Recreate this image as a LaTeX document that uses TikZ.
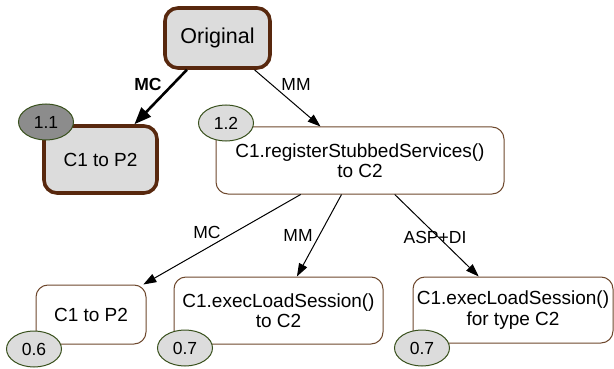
\documentclass[tikz,border=0pt]{standalone}
\usepackage{fontspec}
\setmainfont{Liberation Sans}
\usetikzlibrary{arrows.meta,shapes.geometric}
\definecolor{brownthick}{RGB}{88,40,14}
\definecolor{brownthin}{RGB}{110,72,45}
\definecolor{ovalgreen}{RGB}{56,80,28}
\definecolor{lightfill}{RGB}{220,220,220}
\definecolor{darkfill}{RGB}{140,140,140}
\tikzset{
  boxtext/.style={font=\fontsize{19}{20.5}\selectfont},
  mainbox/.style={draw=brownthick, line width=3.6pt, fill=lightfill, rounded corners=13pt, inner sep=0pt, align=center, boxtext},
  plainbox/.style={draw=brownthin, line width=1pt, fill=white, rounded corners=12pt, inner sep=0pt, align=center, boxtext},
  score/.style={ellipse, draw=ovalgreen, line width=1pt, fill=lightfill, inner sep=0pt, minimum width=55pt, minimum height=36pt, font=\fontsize{17.5}{20}\selectfont},
  edgelabel/.style={font=\fontsize{17.5}{20}\selectfont, inner sep=0pt},
  thinarrow/.style={draw=black, line width=1pt, -{Triangle[length=13pt,width=9pt]}},
  thickarrow/.style={draw=black, line width=2.6pt, -{Triangle[length=17pt,width=13pt]}}
}
\begin{document}
\begin{tikzpicture}[x=1pt,y=-1pt]
\useasboundingbox (0,0) rectangle (614,369);
% boxes
\node[mainbox, minimum width=105pt, minimum height=60pt, font=\fontsize{21.5}{24}\selectfont] (orig) at (217.5,38) {Original};
\node[mainbox, minimum width=113pt, minimum height=67pt] (topc) at (100.5,159.5) {C1 to P2};
\node[plainbox, minimum width=288pt, minimum height=67pt] (reg) at (360,160.5) {C1.registerStubbedServices()\\to C2};
\node[plainbox, minimum width=110pt, minimum height=59pt] (b1) at (91,314.5) {C1 to P2};
\node[plainbox, minimum width=209pt, minimum height=67pt] (b2) at (278.5,310.5) {C1.execLoadSession()\\to C2};
\node[plainbox, minimum width=200pt, minimum height=66pt] (b3) at (513,310) {C1.execLoadSession()\\for type C2};
% score ovals
\node[score, fill=darkfill] (s11) at (46,122) {1.1};
\node[score] (s12) at (226,123) {1.2};
\node[score] (s06) at (34,349) {0.6};
\node[score] (s07a) at (185,348) {0.7};
\node[score] (s07b) at (422,348) {0.7};
% connectors
\draw[thickarrow] (orig) -- (topc);
\draw[thinarrow] (orig) -- (reg);
\draw[thinarrow] (reg) -- (b1);
\draw[thinarrow] (reg) -- (b2);
\draw[thinarrow] (reg) -- (b3);
% labels
\node[edgelabel, font=\fontsize{17.5}{20}\selectfont\bfseries] (lmc1) at (148,84) {MC};
\node[edgelabel] (lmm1) at (296,84) {MM};
\node[edgelabel] (lmc2) at (207,232) {MC};
\node[edgelabel] (lmm2) at (298,235) {MM};
\node[edgelabel] (lasp) at (435,237) {ASP+DI};
\end{tikzpicture}
\end{document}
